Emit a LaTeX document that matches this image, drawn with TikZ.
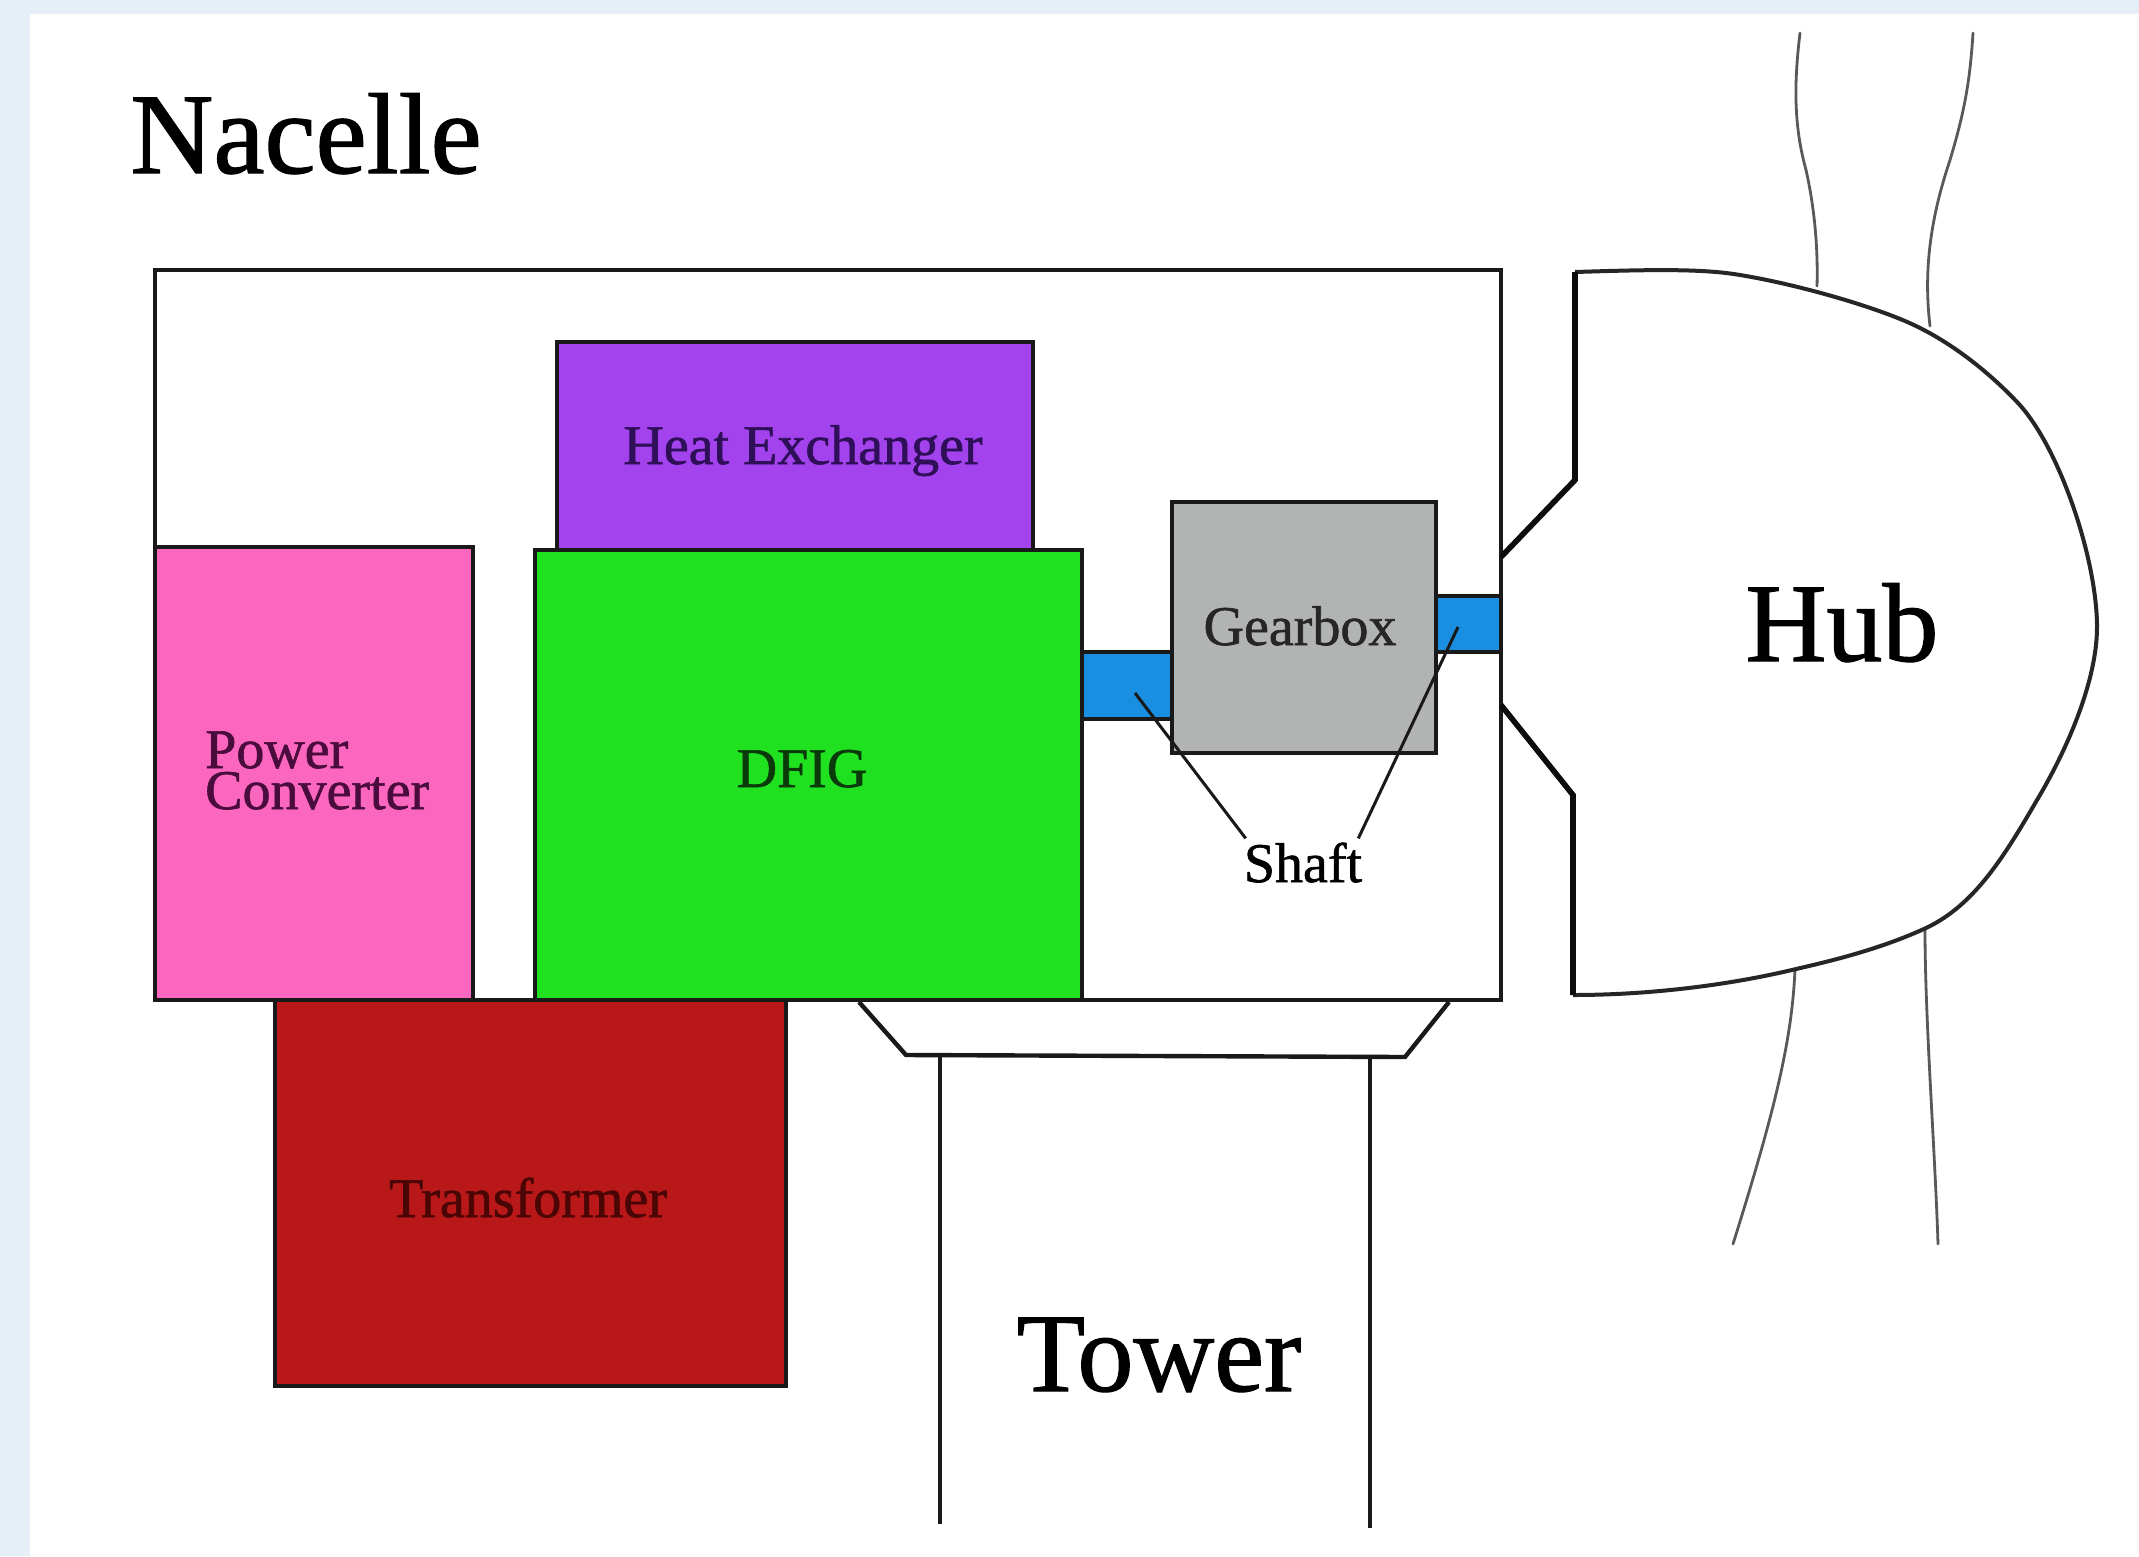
\documentclass[tikz,border=0pt]{standalone}
\usepackage{fontspec}
\setmainfont{Liberation Serif}
\newfontfamily\heavyfont[FakeBold=1.1]{Liberation Serif}
\definecolor{pagebg}{HTML}{E6EEF7}
\definecolor{cPurple}{HTML}{A243EE}
\definecolor{cPink}{HTML}{FB66BE}
\definecolor{cGreen}{HTML}{1FE11F}
\definecolor{cRed}{HTML}{B81818}
\definecolor{cGray}{HTML}{B2B3B3}
\definecolor{cBlue}{HTML}{1A8FE2}
\definecolor{tPurple}{HTML}{2E0F58}
\definecolor{tPink}{HTML}{4A0C3C}
\definecolor{tGreen}{HTML}{0A3A0A}
\definecolor{tRed}{HTML}{4A0505}
\tikzset{
  ln/.style={draw=black!90, line width=4.4pt, line join=miter},
  boxed/.style={ln},
  big/.style={anchor=base, inner sep=0pt, font=\heavyfont\fontsize{112}{112}\selectfont, text=black},
  small/.style={anchor=base, inner sep=0pt, font=\heavyfont\fontsize{56}{56}\selectfont},
  blade/.style={draw=black!65, line width=2.8pt, line cap=round},
  pointer/.style={draw=black!90, line width=3pt},
}
\begin{document}
\begin{tikzpicture}[x=1pt,y=-1pt]
\useasboundingbox (0,0) rectangle (2139,1556);
\fill[pagebg] (0,0) rectangle (2139,1556);
\fill[white] (30,14) rectangle (2139,1556);

% blades
\draw[blade] (1800,33) .. controls (1793,90) and (1795,130) .. (1806,170) .. controls (1815,210) and (1818,250) .. (1817,286);
\draw[blade] (1973,33) .. controls (1970,80) and (1965,110) .. (1950,160) .. controls (1935,205) and (1922,260) .. (1930,326);
\draw[blade] (1795,969) .. controls (1792,1040) and (1775,1110) .. (1733,1244);
\draw[blade] (1925,930) .. controls (1925,1020) and (1935,1150) .. (1938,1244);

% nacelle
\draw[boxed] (155,270) rectangle (1501,1000);
\coordinate (shaftTipA) at (1135,693);
\coordinate (shaftTipB) at (1458,627);

% shafts
\path[boxed, fill=cBlue] (1082,652) rectangle (1172,719);
\path[boxed, fill=cBlue] (1436,596) rectangle (1501,652);

% boxes
\path[boxed, fill=cPurple] (557,342) rectangle (1033,550);
\path[boxed, fill=cPink] (155,547) rectangle (473,1000);
\path[boxed, fill=cGreen] (535,550) rectangle (1082,1000);
\path[boxed, fill=cRed] (275,1000) rectangle (786,1386);
\path[boxed, fill=cGray] (1172,502) rectangle (1436,753);

% hub
\draw[draw=black!85, line width=4pt]
  (1575,272) .. controls (1640,270) and (1700,268) .. (1740,275)
  .. controls (1795,284) and (1865,304) .. (1905,321)
  .. controls (1945,338) and (1985,368) .. (2018,403)
  .. controls (2060,448) and (2097,560) .. (2097,627)
  .. controls (2097,680) and (2068,748) .. (2037,800)
  .. controls (2005,855) and (1975,905) .. (1926,928)
  .. controls (1885,947) and (1840,959) .. (1796,969)
  .. controls (1730,985) and (1650,995) .. (1573,995);
\draw[draw=black!95, line width=5.6pt, line join=miter] (1501,557) -- (1575,480) -- (1575,272);
\draw[draw=black!95, line width=5.6pt, line join=miter] (1573,995) -- (1573,795) -- (1501,705);

% tower
\draw[ln] (859,1002) -- (906,1055) -- (1405,1057) -- (1449,1002);
\draw[ln, line width=3.6pt] (940,1056) -- (940,1524);
\draw[ln, line width=3.6pt] (1370,1058) -- (1370,1528);

% labels
\node[big, font=\heavyfont\fontsize{115}{115}\selectfont] (nacelle) at (306,173) {Nacelle};
\node[big] (hub) at (1842,661) {Hub};
\node[big] (tower) at (1159,1391) {Tower};
\node[small, text=tPurple] (heat) at (803,464) {Heat Exchanger};
\node[small, anchor=base west, text=tPink] (power) at (205,768) {Power};
\node[small, anchor=base west, text=tPink] (conv) at (205,809) {Converter};
\node[small, text=tGreen] (dfig) at (802,787) {DFIG};
\node[small, text=black!85] (gear) at (1300,645) {Gearbox};
\node[small, text=black] (shaft) at (1303,882) {Shaft};
\node[small, text=tRed] (trans) at (528,1217) {Transformer};

% pointers
\draw[pointer] (shaft.north west)++(2,-4) -- (shaftTipA);
\draw[pointer] (shaft.north east)++(-4,-4) -- (shaftTipB);
\end{tikzpicture}
\end{document}
